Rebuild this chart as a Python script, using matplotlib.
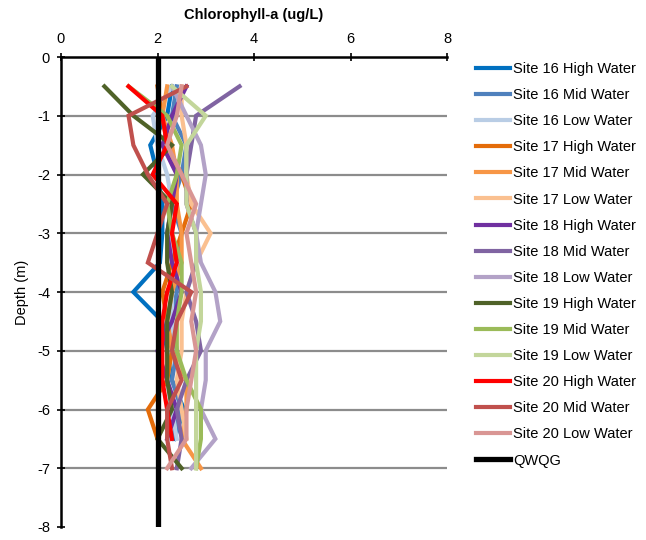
import matplotlib
matplotlib.use("Agg")
import matplotlib.pyplot as plt
import numpy as np

plt.rcParams['font.family'] = ['Liberation Sans', 'DejaVu Sans']
plt.rcParams['axes.unicode_minus'] = False

nan = np.nan
depth = [-0.5, -1, -1.5, -2, -2.5, -3, -3.5, -4, -4.5, -5, -5.5, -6, -6.5, -7]

labels = ['Site 16 High Water', 'Site 16 Mid Water', 'Site 16 Low Water',
          'Site 17 High Water', 'Site 17 Mid Water', 'Site 17 Low Water',
          'Site 18 High Water', 'Site 18 Mid Water', 'Site 18 Low Water',
          'Site 19 High Water', 'Site 19 Mid Water', 'Site 19 Low Water',
          'Site 20 High Water', 'Site 20 Mid Water', 'Site 20 Low Water']

s16_high = [2.3, 2.2, 1.85, 2.0, 2.1, 2.1, 2.05, 1.5, 2.1, 2.2, 2.3, 2.55, 2.35, nan]
s16_mid = [2.4, 2.3, 2.6, 2.5, 2.3, 2.5, 2.4, 2.4, 2.3, 2.4, 2.3, 2.5, 2.3, nan]
s16_low = [2.3, 1.9, 2.0, 2.2, 2.3, 2.2, 2.4, 2.3, 2.3, 2.3, 2.2, 2.3, 2.4, nan]
s17_high = [2.0, 2.1, 2.2, 2.5, 2.7, 2.5, 2.3, 2.1, 2.2, 2.3, 2.2, 1.8, 2.0, nan]
s17_mid = [2.2, 2.1, 2.3, 2.4, 2.4, 2.5, 2.5, 2.3, 2.2, 2.3, 2.6, 2.6, 2.5, 2.9]
s17_low = [2.5, 2.5, 2.6, 2.6, 2.7, 3.1, 2.8, 2.6, 2.5, 2.5, 2.4, 2.5, 2.6, nan]
s18_high = [2.6, 2.3, 2.1, 2.4, 2.3, 2.2, 2.3, 2.5, 2.3, 2.0, 2.2, 2.4, 2.2, nan]
s18_mid = [3.7, 2.8, 2.7, 2.6, 2.6, 2.8, 2.8, 2.6, 2.8, 2.9, 2.6, 2.4, 2.5, 2.4]
s18_low = [2.3, 2.6, 2.9, 3.0, 2.9, 2.8, 2.9, 3.2, 3.3, 3.0, 3.0, 2.9, 3.2, 2.7]
s19_high = [0.9, 1.5, 2.3, 1.7, 2.3, 2.2, 2.2, 2.3, 2.2, 2.2, 2.2, 2.3, 2.0, 2.5]
s19_mid = [1.4, 2.2, 2.5, 2.4, 2.2, 2.3, 2.5, 2.5, 2.4, 2.4, 2.6, 2.9, 2.9, 2.8]
s19_low = [2.3, 3.0, 2.6, 2.6, 2.6, 2.8, 2.8, 2.9, 2.9, 2.8, 2.8, 2.8, 2.8, 2.8]
s20_high = [1.4, 2.1, 2.2, 1.9, 2.4, 2.3, 2.4, 2.2, 2.1, 2.1, 2.1, 2.2, 2.3, nan]
s20_mid = [2.6, 1.4, 1.5, 1.8, 2.2, 2.0, 1.8, 2.7, 2.4, 2.3, 2.5, 2.2, 2.2, 2.3]
s20_low = [2.5, 2.4, 2.2, 2.5, 2.8, 2.6, 2.7, 2.8, 2.7, 2.8, 2.7, 2.6, 2.6, 2.2]

series = [s16_high, s16_mid, s16_low, s17_high, s17_mid, s17_low,
          s18_high, s18_mid, s18_low, s19_high, s19_mid, s19_low,
          s20_high, s20_mid, s20_low]

colors = ['#0070C0', '#4F81BD', '#B9CDE5', '#E46C0A', '#F79646', '#FAC090',
          '#7030A0', '#8064A2', '#B3A2C7', '#4F6228', '#9BBB59', '#C3D69B',
          '#FF0000', '#C0504D', '#D99694']

qwqg = 2.0
qwqg_depth = [0, -8]

fig = plt.figure(figsize=(6.46, 5.4), dpi=100)
ax = fig.add_axes([61 / 646, 13 / 540, 386 / 646, 470 / 540])

for vals, c, lab in zip(series, colors, labels):
    ax.plot(vals, depth, color=c, lw=3, label=lab, solid_joinstyle='miter')
ax.plot([qwqg, qwqg], qwqg_depth, color='black', lw=3.8, label='QWQG')

ax.set_xlim(0, 8)
ax.set_ylim(-8, 0)
ax.xaxis.tick_top()
ax.xaxis.set_label_position('top')
ax.set_xticks([0, 2, 4, 6, 8])
ax.set_yticks(range(-8, 1))
ax.set_xlabel('Chlorophyll-a (ug/L)', fontsize=10.5, fontweight='bold', labelpad=9)
ax.set_ylabel('Depth (m)', fontsize=10.5, labelpad=6)
ax.tick_params(labelsize=10.5, direction='inout', length=6, width=1.2, pad=5)
for y in range(-7, 0):
    ax.axhline(y, color='#8c8c8c', lw=1.6, zorder=0)
for s in ['right', 'bottom']:
    ax.spines[s].set_visible(False)
ax.spines['left'].set_linewidth(1.8)
ax.spines['top'].set_linewidth(1.8)

ax.legend(loc='upper left', bbox_to_anchor=(476 / 646, 1 - 62 / 540),
          bbox_transform=fig.transFigure, frameon=False, fontsize=10.5,
          handlelength=2.3, handletextpad=0.25, labelspacing=0.83,
          borderaxespad=0, borderpad=0)

fig.savefig('out.png', dpi=100)
